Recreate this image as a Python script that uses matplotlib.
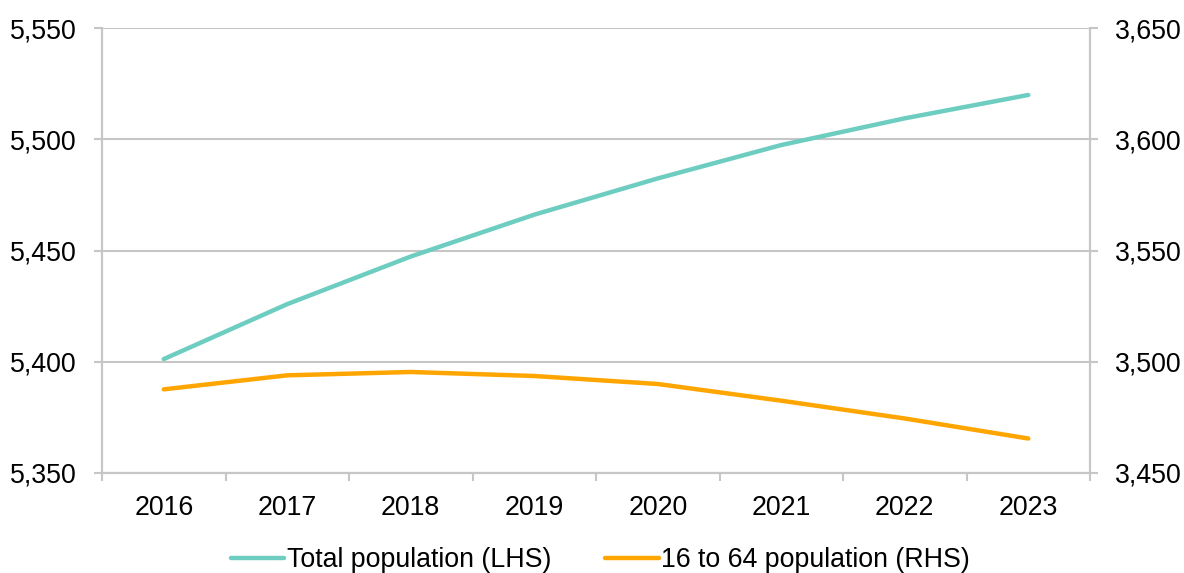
import matplotlib
matplotlib.use("Agg")
import matplotlib.pyplot as plt
from matplotlib.ticker import FuncFormatter, FixedLocator

years = ["2016", "2017", "2018", "2019", "2020", "2021", "2022", "2023"]
total_pop = [5401.2, 5425.9, 5447.3, 5466.1, 5482.4, 5497.4, 5509.4, 5519.9]
working_pop = [3487.6, 3493.9, 3495.4, 3493.6, 3490.0, 3482.5, 3474.5, 3465.5]
left_ticks = [5350, 5400, 5450, 5500, 5550]
right_ticks = [3450, 3500, 3550, 3600, 3650]

teal = "#6ECDC1"
orange = "#FFA500"
grid_col = "#C6C6C6"

plt.rcParams["font.family"] = ["Liberation Sans", "DejaVu Sans"]
fs = 19.3

fig = plt.figure(figsize=(11.84, 5.73), dpi=100)
ax = fig.add_axes([102/1184, 1-473/573, (1090-102)/1184, (473-28)/573])
ax2 = ax.twinx()

x = list(range(len(years)))
l1, = ax.plot(x, total_pop, color=teal, lw=3.2, solid_capstyle="round", label="Total population (LHS)", zorder=3)
l2, = ax2.plot(x, working_pop, color=orange, lw=3.2, solid_capstyle="round", label="16 to 64 population (RHS)", zorder=3)

ax.set_xlim(-0.5, len(years) - 0.5)
ax.set_ylim(left_ticks[0], left_ticks[-1])
ax2.set_ylim(right_ticks[0], right_ticks[-1])
ax.set_yticks(left_ticks)
ax2.set_yticks(right_ticks)
fmt = FuncFormatter(lambda v, p: f"{int(v):,}")
ax.yaxis.set_major_formatter(fmt)
ax2.yaxis.set_major_formatter(fmt)

ax.set_xticks(x)
ax.set_xticklabels(years)
ax.xaxis.set_minor_locator(FixedLocator([i - 0.5 for i in range(len(years) + 1)]))
ax.tick_params(axis="x", which="major", length=0, pad=16, labelsize=fs)
ax.tick_params(axis="x", which="minor", length=5.5, width=1.5, color=grid_col, direction="out")
ax.tick_params(axis="y", length=6, width=1.5, color=grid_col, pad=12, labelsize=fs)
ax2.tick_params(axis="y", length=6, width=1.5, color=grid_col, pad=12, labelsize=fs)

ax.grid(axis="y", color=grid_col, lw=1.5)
ax.set_axisbelow(True)
for a in (ax, ax2):
    a.spines["top"].set_visible(False)
    for s in ("left", "right", "bottom"):
        a.spines[s].set_color(grid_col)
        a.spines[s].set_linewidth(1.5)

fig.legend(handles=[l1, l2], loc="center", bbox_to_anchor=(0.507, 0.022),
           bbox_transform=fig.transFigure, ncol=2, frameon=False, fontsize=fs,
           handlelength=2.0, handletextpad=0.1, columnspacing=2.0, borderpad=0)

fig.savefig("out.png", dpi=100)
